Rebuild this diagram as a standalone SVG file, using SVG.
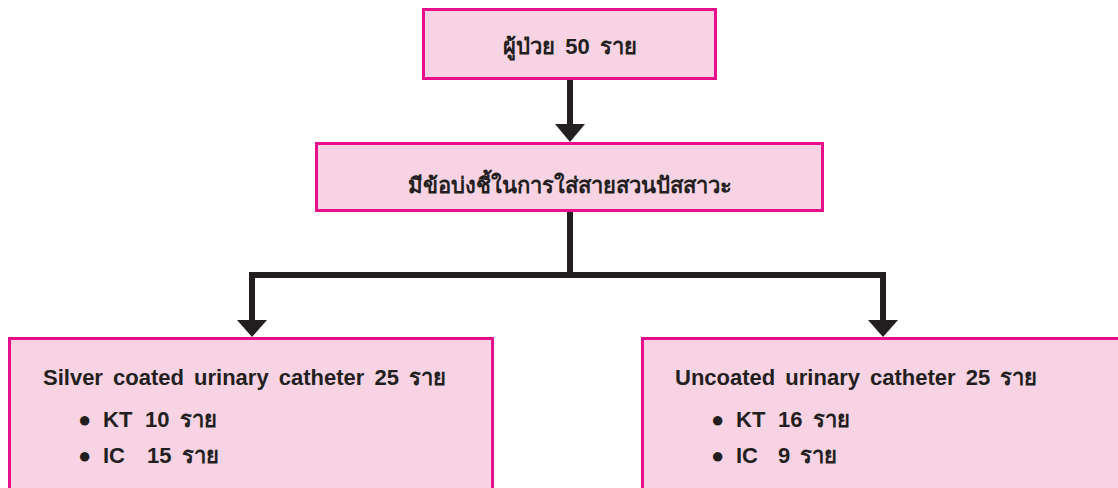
<svg xmlns="http://www.w3.org/2000/svg" width="1118" height="488" viewBox="0 0 1118 488">
  <defs>
    <style>
      .box { fill: #F8D3E4; stroke: #E8108A; stroke-width: 3; }
      .t { font-family: "Liberation Sans", "Noto Sans", sans-serif; font-weight: bold; fill: #231F20; font-size: 22px; word-spacing: 4px; }
      .line { stroke: #231F20; stroke-width: 6; fill: none; }
      .head { fill: #231F20; }
    </style>
  </defs>
  <rect width="1118" height="488" fill="#ffffff"/>
  <g id="connectors">
    <line class="line" x1="570" y1="80" x2="570" y2="125"/>
    <polygon class="head" points="555,124 585,124 570,142"/>
    <line class="line" x1="570" y1="211" x2="570" y2="275"/>
    <polyline class="line" points="252,321 252,275 883,275 883,321"/>
    <polygon class="head" points="237,320 267,320 252,337"/>
    <polygon class="head" points="868,320 898,320 883,337"/>
  </g>
  <g id="node-patients">
    <rect class="box" x="423.5" y="9.5" width="292" height="69"/>
    <text class="t" x="570" y="54" text-anchor="middle">ผู้ป่วย 50 ราย</text>
  </g>
  <g id="node-indication">
    <rect class="box" x="316.5" y="143.5" width="506" height="67"/>
    <text class="t" x="570" y="193" text-anchor="middle">มีข้อบ่งชี้ในการใส่สายสวนปัสสาวะ</text>
  </g>
  <g id="node-silver">
    <rect class="box" x="9.5" y="338.5" width="483" height="160"/>
    <text class="t" x="43" y="385">Silver coated urinary catheter 25 ราย</text>
    <text class="t" y="427"><tspan x="78">●</tspan><tspan x="103">KT</tspan><tspan x="145">10 ราย</tspan></text>
    <text class="t" y="463"><tspan x="78">●</tspan><tspan x="103">IC</tspan><tspan x="147">15 ราย</tspan></text>
  </g>
  <g id="node-uncoated">
    <rect class="box" x="642.5" y="338.5" width="490" height="160"/>
    <text class="t" x="675" y="385">Uncoated urinary catheter 25 ราย</text>
    <text class="t" y="427"><tspan x="711">●</tspan><tspan x="736">KT</tspan><tspan x="778">16 ราย</tspan></text>
    <text class="t" y="463"><tspan x="711">●</tspan><tspan x="736">IC</tspan><tspan x="778">9 ราย</tspan></text>
  </g>
</svg>
